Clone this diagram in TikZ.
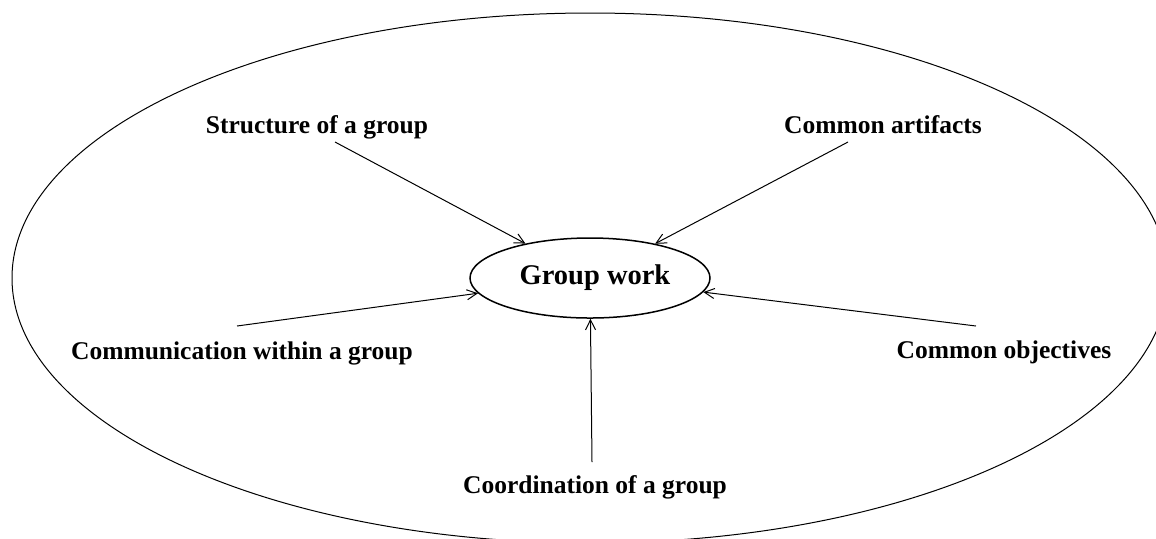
\documentclass[tikz,border=0pt]{standalone}
\usepackage{fontspec}
\setmainfont{Liberation Serif}
\usepackage{tikz}
\usetikzlibrary{arrows.meta,shapes.geometric}

\begin{document}
\begin{tikzpicture}[x=0.5pt, y=-0.5pt,
  lbl/.style={font=\fontsize{12.75}{15}\selectfont\bfseries, anchor=base, inner sep=0pt},
  arr/.style={line width=0.5pt, -{Straight Barb[length=5pt,width=5pt]}}]
\clip (0,0) rectangle (1156,538);
%%%%% Outer ellipse %%%%%
\draw[line width=0.5pt] (590,278) ellipse [x radius=289pt, y radius=132.5pt];
%%%%% Centre %%%%%
\node[ellipse, draw, line width=0.75pt, minimum width=120pt, minimum height=40pt, inner sep=0pt,
  font=\fontsize{14.25}{17}\selectfont\bfseries] (gw) at (590,278) {\hspace{5pt}Group work};
%%%%% Labels %%%%%
\node[lbl] (struct) at (317,133) {Structure of a group};
\node[lbl] (artif) at (883,133) {Common artifacts};
\node[lbl] (comm) at (242,359) {Communication within a group};
\node[lbl] (obj) at (1004,358) {Common objectives};
\node[lbl] (coord) at (595,493) {Coordination of a group};
%%%%% Arrows %%%%%
\coordinate (struct-end) at (335,142);
\coordinate (artif-end) at (848,142);
\coordinate (comm-end) at (237,326);
\coordinate (obj-end) at (976,326);
\coordinate (coord-end) at (592,462);
\foreach \s in {struct,artif,comm,obj,coord}{
  \draw[arr] (\s-end) -- (gw);
}
\end{tikzpicture}
\end{document}
